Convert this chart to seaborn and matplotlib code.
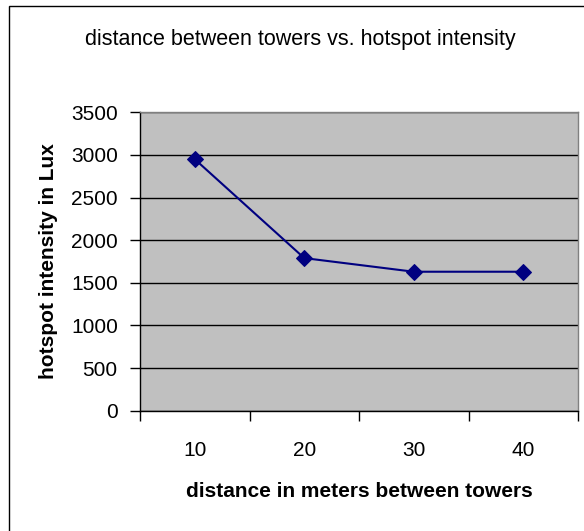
import matplotlib
matplotlib.use("Agg")
import matplotlib.pyplot as plt
import seaborn as sns
import pandas as pd
from matplotlib.patches import Rectangle

distances = ["10", "20", "30", "40"]
intensity = [2950, 1790, 1630, 1630]
y_ticks = [0, 500, 1000, 1500, 2000, 2500, 3000, 3500]

sns.set_style("white")
plt.rcParams["font.family"] = ["Liberation Sans", "DejaVu Sans"]
plt.rcParams["text.color"] = "black"
plt.rcParams["axes.labelcolor"] = "black"
plt.rcParams["xtick.color"] = "black"
plt.rcParams["ytick.color"] = "black"

df = pd.DataFrame({"pos": range(len(distances)), "intensity": intensity})

fig = plt.figure(figsize=(5.84, 5.31), dpi=100)
ax = fig.add_axes([140 / 584, (531 - 410.7) / 531, (578 - 140) / 584, (410.7 - 112.3) / 531])
ax.set_facecolor("#C0C0C0")

sns.lineplot(data=df, x="pos", y="intensity", ax=ax, color="#000080", marker="D",
             markersize=8.5, markeredgecolor="#000080", linewidth=1.5, zorder=3)

ax.set_xlim(-0.5, len(distances) - 0.5)
ax.set_ylim(0, 3500)
ax.set_yticks(y_ticks)
ax.set_yticklabels([str(v) for v in y_ticks], fontsize=15)
ax.yaxis.grid(True, color="black", linewidth=1)
ax.set_axisbelow(True)

ax.set_xticks([i - 0.5 for i in range(len(distances) + 1)])
ax.set_xticklabels([])
ax.set_xticks(range(len(distances)), minor=True)
ax.set_xticklabels(distances, minor=True, fontsize=15)
ax.tick_params(axis="x", which="major", bottom=True, direction="out", length=7, width=1, color="black")
ax.tick_params(axis="x", which="minor", bottom=True, labelbottom=True, length=0, pad=22)
ax.tick_params(axis="y", left=True, direction="out", length=7, width=1, color="black", pad=9)

for side in ["top", "right"]:
    ax.spines[side].set_color("#808080")
    ax.spines[side].set_linewidth(1)
for side in ["left", "bottom"]:
    ax.spines[side].set_color("black")
    ax.spines[side].set_linewidth(1)
    ax.spines[side].set_visible(True)

ax.set_xlabel("distance in meters between towers", fontsize=15, fontweight="bold", labelpad=16)
ax.set_ylabel("hotspot intensity in Lux", fontsize=15, fontweight="bold", labelpad=9)

fig.text(300 / 584, 1 - 39 / 531, "distance between towers vs. hotspot intensity",
         ha="center", va="center", fontsize=15.5)

fig.patches.append(Rectangle((9 / 584, -0.05), 1.0, 1.05 - 6 / 531,
                             transform=fig.transFigure, fill=False, edgecolor="black",
                             linewidth=1, clip_on=False))

fig.savefig("out.png", dpi=100, facecolor="white")
